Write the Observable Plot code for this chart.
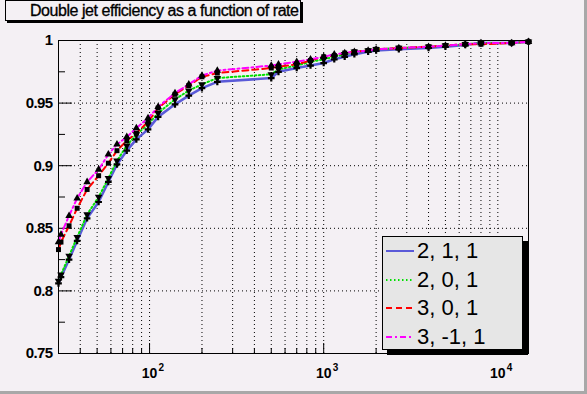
<!DOCTYPE html>
<html><head><meta charset="utf-8">
<script src="https://cdn.jsdelivr.net/npm/d3@7"></script>
<script src="https://cdn.jsdelivr.net/npm/@observablehq/plot@0.6"></script>
<style>
html,body{margin:0;padding:0;background:#a8a8a8;}
#wrap{position:relative;width:587px;height:394px;overflow:hidden;font-family:"Liberation Sans",Arial,sans-serif;}
#bg{position:absolute;left:0;top:0;width:584px;height:391px;background:#f4f0f4;}
#chart{position:absolute;left:0;top:0;}
#chart svg text.ylab{letter-spacing:-0.6px;}
#title{position:absolute;left:5px;top:0px;width:270px;height:19px;padding-left:24px;border:1px solid #000;box-shadow:2px 2px 0 #000;background:#f4f0f4;font-size:16px;line-height:20px;text-align:left;color:#000;white-space:nowrap;letter-spacing:-0.45px;-webkit-text-stroke:0.3px #000;}
#legend{position:absolute;left:382px;top:236px;width:139px;height:112px;border:1px solid #000;box-shadow:5px 5px 0 #000;background:#e6e6e6;}
.row{position:absolute;left:0;height:28px;line-height:28px;font-size:22px;color:#000;white-space:nowrap;}
.row svg{position:absolute;left:2px;top:9px;}
.row span{position:absolute;left:34px;top:0;}
</style></head>
<body>
<div id="wrap"><div id="bg"></div><div id="chart"></div>
<div id="title">Double jet efficiency as a function of rate</div>
<div id="legend"></div></div>
<script>
// ---- data ----
const rate = [30, 31, 34.5, 38.4, 43.8, 51, 58, 65, 74, 84, 98, 112, 140, 168, 200, 245, 500, 550, 700, 840, 1000, 1150, 1320, 1500, 1800, 2000, 2700, 4000, 5000, 6500, 8000, 12000, 15000];
const eff211 = [0.806,0.811,0.825,0.840,0.858,0.871,0.887,0.901,0.912,0.921,0.929,0.939,0.949,0.956,0.962,0.967,0.970,0.975,0.978,0.980,0.982,0.985,0.987,0.989,0.991,0.992,0.993,0.994,0.995,0.9965,0.998,0.998,0.999];
const eff201 = [0.808,0.813,0.828,0.843,0.861,0.875,0.890,0.904,0.916,0.925,0.933,0.942,0.953,0.960,0.965,0.970,0.973,0.977,0.980,0.983,0.985,0.987,0.989,0.991,0.992,0.993,0.994,0.995,0.996,0.997,0.998,0.998,0.999];
const eff301 = [0.833,0.839,0.852,0.866,0.881,0.892,0.902,0.912,0.920,0.926,0.935,0.946,0.957,0.964,0.971,0.974,0.978,0.979,0.981,0.984,0.987,0.988,0.990,0.991,0.992,0.993,0.994,0.995,0.996,0.997,0.997,0.998,0.999];
const eff3m11 = [0.839,0.845,0.860,0.874,0.887,0.897,0.909,0.917,0.923,0.930,0.938,0.947,0.958,0.965,0.972,0.976,0.980,0.981,0.983,0.985,0.987,0.989,0.990,0.991,0.992,0.993,0.994,0.995,0.996,0.997,0.998,0.998,0.999];
const seriesNames = ["2, 1, 1", "2, 0, 1", "3, 0, 1", "3, -1, 1"];
const seriesValues = [eff211, eff201, eff301, eff3m11];
const yMajor = [0.75, 0.8, 0.85, 0.9, 0.95, 1];
const yMinor = [0.775, 0.825, 0.875, 0.925, 0.975];
const yGrid = [0.8, 0.85, 0.9, 0.95];
const decades = [100, 1000, 10000];
const decadeExp = ["2", "3", "4"];
const xMinor = [40,50,60,70,80,90,200,300,400,500,600,700,800,900,2000,3000,4000,5000,6000,7000,8000,9000];

// ---- styles ----
const styles = [
  {color:"#5a5ad8", dash:null, width:2.5, symbol:"cross", rotate:0, r:2.8},
  {color:"#00e000", dash:"1.5,2.5", width:2, symbol:"triangle", rotate:180, r:2.8},
  {color:"#ff0000", dash:"6,4", width:2, symbol:"square", rotate:0, r:2.8},
  {color:"#ff00ff", dash:"6,3,2,3", width:2, symbol:"triangle", rotate:0, r:2.8}
];

const W = 587, H = 394, mL = 58, mR = 59, mT = 40, mB = 41;
const plotW = W - mL - mR, plotH = H - mT - mB;

const lineMarks = [], dotMarks = [];
seriesValues.forEach((vals, i) => {
  const data = rate.map((r, j) => ({rate: r, eff: vals[j]}));
  const s = styles[i];
  lineMarks.push(Plot.line(data, {x:"rate", y:"eff", stroke:s.color, strokeWidth:s.width, strokeDasharray:s.dash}));
  dotMarks.push(Plot.dot(data, {x:"rate", y:"eff", symbol:()=>s.symbol, fill:"#000", stroke:"none", r:s.r, rotate:s.rotate}));
});

const chart = Plot.plot({
  width: W, height: H,
  marginLeft: mL, marginRight: mR, marginTop: mT, marginBottom: mB,
  x: {type:"log", domain:[30, 15000], axis:null},
  y: {domain:[0.75, 1]},
  style: {background:"transparent", fontFamily:"Liberation Sans, Arial, sans-serif", overflow:"visible", color:"#000"},
  marks: [
    Plot.ruleX([...xMinor, ...decades], {stroke:"#000", strokeWidth:1, strokeDasharray:"1,3"}),
    Plot.ruleY(yGrid, {stroke:"#000", strokeWidth:1, strokeDasharray:"1,3"}),
    Plot.ruleY(yMajor, {stroke:"#000", insetRight: plotW - 14}),
    Plot.ruleY(yMinor, {stroke:"#000", insetRight: plotW - 7}),
    Plot.ruleX(decades, {stroke:"#000", insetTop: plotH - 10}),
    Plot.ruleX(xMinor, {stroke:"#000", insetTop: plotH - 5}),
    ...lineMarks,
    ...dotMarks,
    Plot.frame({stroke:"#000", strokeWidth:1}),
    Plot.axisY({ticks: yMajor, tickSize:0, tickPadding:6, fontSize:15, fontWeight:"bold", tickFormat: d => String(d), label:null, className:"ylab"}),
    Plot.text(decades, {x: d => d, frameAnchor:"bottom", dy: 24, text: () => "10", fontSize:14, fontWeight:"bold", fill:"#000"}),
    Plot.text(decades, {x: d => d, frameAnchor:"bottom", dy: 17, dx: 9, text: (d, i) => decadeExp[i], fontSize:10, fontWeight:"bold", textAnchor:"start", fill:"#000"})
  ]
});
chart.querySelectorAll("g[aria-label='y-axis tick label'] text").forEach(t => t.setAttribute("class", "ylab"));
document.getElementById("chart").appendChild(chart);

// legend
const legend = document.getElementById("legend");
const rowCenters = [14, 43, 71, 100];
seriesNames.forEach((name, i) => {
  const s = styles[i];
  const row = document.createElement("div");
  row.className = "row";
  row.style.top = (rowCenters[i] - 14) + "px";
  row.innerHTML = `<svg width="30" height="10"><line x1="1" y1="5" x2="29" y2="5" stroke="${s.color}" stroke-width="${s.width === 2.5 ? 2 : s.width}" ${s.dash ? `stroke-dasharray="${s.dash}"` : ""}/></svg><span>${name}</span>`;
  legend.appendChild(row);
});
</script>
</body></html>
